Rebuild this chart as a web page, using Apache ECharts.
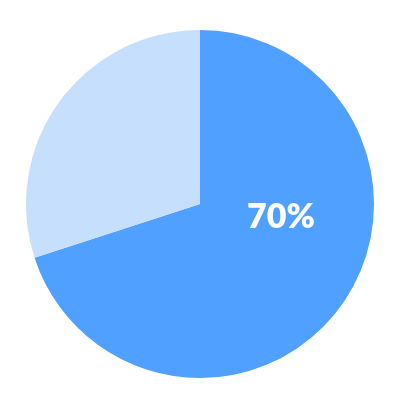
<!DOCTYPE html>
<html>
<head>
<meta charset="utf-8">
<style>
  html, body { margin: 0; padding: 0; background: #fff; }
  #chart { width: 400px; height: 400px; }
</style>
<script src="https://cdn.jsdelivr.net/npm/echarts@6/dist/echarts.min.js"></script>
</head>
<body>
<div id="chart"></div>
<script>
// data
const names = ['A', 'B']
const values = [70, 30]
const colors = ['#50A1FF', '#C6DFFD']

const chart = echarts.init(document.getElementById('chart'))

const seriesData = names.map((n, i) => ({
  name: n,
  value: values[i],
  itemStyle: { color: colors[i] },
  label: i === 0
    ? { show: true, position: 'center', offset: [81, 13], formatter: '{d}%' }
    : { show: false }
}))

chart.setOption({
  animation: false,
  series: [{
    type: 'pie',
    center: ['50%', '51%'],
    radius: ['0%', '87%'],
    startAngle: 90,
    clockwise: true,
    label: {
      color: '#fff',
      fontSize: 34,
      fontWeight: 800,
      fontFamily: 'Lato, "Open Sans", sans-serif'
    },
    labelLine: { show: false },
    emphasis: { disabled: true },
    data: seriesData
  }]
})
</script>
</body>
</html>
